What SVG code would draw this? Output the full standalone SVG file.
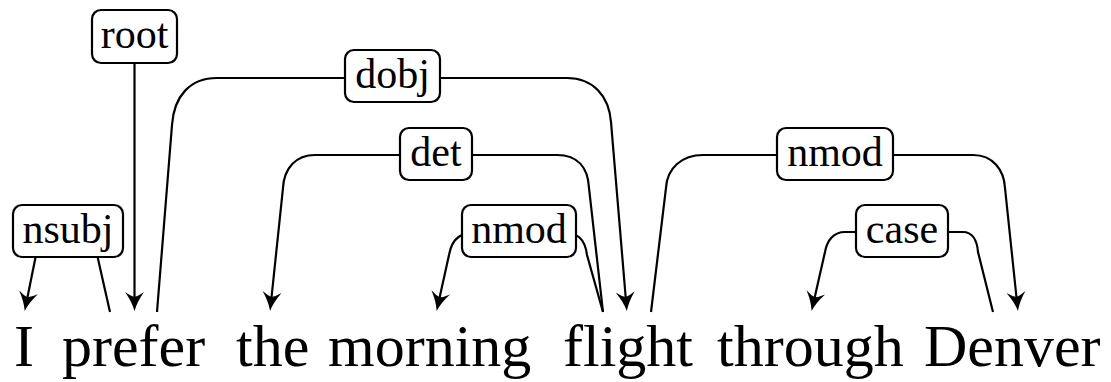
<svg xmlns="http://www.w3.org/2000/svg" width="1111" height="382" viewBox="0 0 1111 382">
<style>
.bx{fill:#fff;stroke:#000;stroke-width:2.2}
.e{fill:none;stroke:#000;stroke-width:2.2}
.a{marker-end:url(#arr)}
</style>
<defs>
<marker id="arr" markerUnits="userSpaceOnUse" markerWidth="22" markerHeight="22" refX="16" refY="11" orient="auto">
<path d="M20,11 Q11,8.5 1,1.5 Q5,7 6,11 Q5,15 1,20.5 Q11,13.5 20,11 Z" fill="#000"/>
</marker>
</defs>
<rect width="1111" height="382" fill="#fff"/>
<g id="words" font-family="Liberation Serif" font-size="60" fill="#000">
<text x="14" y="366">I</text>
<text x="62" y="366">prefer</text>
<text x="236" y="366">the</text>
<text x="328" y="366">morning</text>
<text x="563" y="366">flight</text>
<text x="717" y="366">through</text>
<text x="924" y="366">Denver</text>
</g>
<g id="connectors">
<path class="e a" d="M37,250 L25.5,307"/>
<path class="e" d="M96,250 L110,312"/>
<path class="e a" d="M134.5,63 L134.5,307"/>
<path class="e" d="M157,312 L172,125 C174,96 190,78 217,78 L345,78"/>
<path class="e a" d="M440,78 L567,78 C593,78 609,96 611,122 L626.5,307"/>
<path class="e a" d="M400,155 L315,155 C296,155 284,168 283,188 L270.5,307"/>
<path class="e" d="M472,155 L557,155 C578,155 588,168 589,188 L603,312"/>
<path class="e a" d="M480,232 C462,232 452,237 449,255 L437.5,307"/>
<path class="e" d="M560,232 C578,232 585,239 587,255 L603,312"/>
<path class="e" d="M777,155 L703,155 C682,155 667,168 666,188 L651,312"/>
<path class="e a" d="M893,155 L973,155 C993,155 1004,170 1005,188 L1017.5,307"/>
<path class="e a" d="M856,232 L845,232 C834,232 827,240 825,252 L812.5,307"/>
<path class="e" d="M948,232 L963,232 C972,232 977,240 978,252 L993,312"/>
</g>
<g font-family="Liberation Serif" font-size="42" fill="#000" text-anchor="middle">
<g id="root"><rect class="bx" x="92" y="10" width="85" height="53" rx="9"/><text x="134.5" y="48">root</text></g>
<g id="nsubj"><rect class="bx" x="13" y="205" width="110" height="52" rx="9"/><text x="68" y="243">nsubj</text></g>
<g id="dobj"><rect class="bx" x="345" y="50" width="95" height="52" rx="9"/><text x="392.5" y="88">dobj</text></g>
<g id="det"><rect class="bx" x="400" y="128" width="72" height="52" rx="9"/><text x="436" y="166">det</text></g>
<g id="nmod1"><rect class="bx" x="462" y="205" width="114" height="52" rx="9"/><text x="519" y="243">nmod</text></g>
<g id="nmod2"><rect class="bx" x="777" y="128" width="116" height="52" rx="9"/><text x="835" y="166">nmod</text></g>
<g id="case"><rect class="bx" x="856" y="205" width="92" height="52" rx="9"/><text x="902" y="243">case</text></g>
</g>
</svg>
